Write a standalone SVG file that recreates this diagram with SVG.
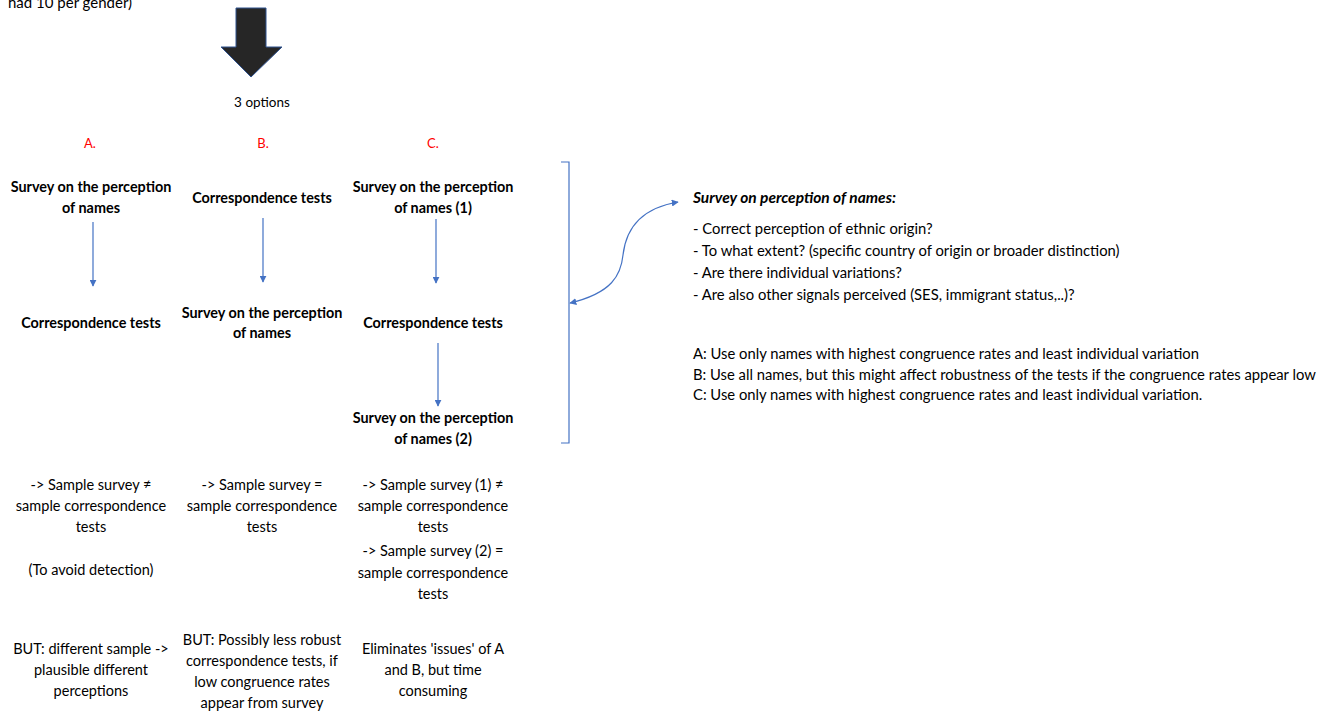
<svg xmlns="http://www.w3.org/2000/svg" width="1336" height="712" viewBox="0 0 1336 712">
<style>
text{font-family:Lato,"Liberation Sans",sans-serif;fill:#000;}
.b{font-weight:bold;font-size:14.4px;text-anchor:middle;}
.r{font-size:14.5px;text-anchor:middle;}
.s{font-size:14.8px;}
.h{font-size:15.5px;font-weight:bold;font-style:italic;}
.red{fill:#ff0000;font-size:13px;text-anchor:middle;}
.con{stroke:#4472C4;stroke-width:1.2;fill:none;}
</style>
<defs>
<marker id="ah" viewBox="0 0 10 10" refX="9" refY="5" markerWidth="7" markerHeight="7" markerUnits="userSpaceOnUse" orient="auto"><path d="M0,0 L10,5 L0,10 z" fill="#4472C4"/></marker>
<marker id="ahs" viewBox="0 0 10 10" refX="1" refY="5" markerWidth="7" markerHeight="7" markerUnits="userSpaceOnUse" orient="auto"><path d="M10,0 L0,5 L10,10 z" fill="#4472C4"/></marker>
</defs>
<rect width="1336" height="712" fill="#fff"/>
<g id="top-note"><text x="8" y="8" font-size="15">had 10 per gender)</text></g>
<g id="big-arrow"><path d="M236,8 H266 V47 H282 L251,77 L221,47 H236 Z" fill="#262626" stroke="#2F528F" stroke-width="1"/></g>
<g id="options"><text x="262" y="107" text-anchor="middle" font-size="13.5">3 options</text></g>
<g id="labels">
<text x="90" y="148" class="red">A.</text>
<text x="263" y="148" class="red">B.</text>
<text x="433" y="148" class="red">C.</text>
</g>
<g id="a1"><text x="91" y="192" class="b">Survey on the perception</text><text x="91" y="213" class="b">of names</text></g>
<g id="a2"><text x="91" y="328" class="b">Correspondence tests</text></g>
<g id="b1"><text x="262" y="203" class="b">Correspondence tests</text></g>
<g id="b2"><text x="262" y="318" class="b">Survey on the perception</text><text x="262" y="338" class="b">of names</text></g>
<g id="c1"><text x="433" y="192" class="b">Survey on the perception</text><text x="433" y="213" class="b">of names (1)</text></g>
<g id="c2"><text x="433" y="328" class="b">Correspondence tests</text></g>
<g id="c3"><text x="433" y="423" class="b">Survey on the perception</text><text x="433" y="444" class="b">of names (2)</text></g>
<g id="connectors">
<line x1="93" y1="222" x2="93" y2="286" class="con" marker-end="url(#ah)"/>
<line x1="263" y1="218" x2="263" y2="282" class="con" marker-end="url(#ah)"/>
<line x1="436" y1="219" x2="436" y2="283" class="con" marker-end="url(#ah)"/>
<line x1="438" y1="343" x2="438" y2="406" class="con" marker-end="url(#ah)"/>
<path d="M561,162 H569 V443 H561" class="con" stroke-width="1.5"/>
<path d="M570,303 C612,293 621,275 623,255 C626,228 642,208 678,202" class="con" marker-start="url(#ahs)" marker-end="url(#ah)"/>
</g>
<g id="right-notes">
<text x="693" y="203" class="h">Survey on perception of names:</text>
<text x="693" y="234" class="s">- Correct perception of ethnic origin?</text>
<text x="693" y="256" class="s">- To what extent? (specific country of origin or broader distinction)</text>
<text x="693" y="278" class="s">- Are there individual variations?</text>
<text x="693" y="300" class="s">- Are also other signals perceived (SES, immigrant status,..)?</text>
<text x="693" y="359" class="s">A: Use only names with highest congruence rates and least individual variation</text>
<text x="693" y="380" class="s">B: Use all names, but this might affect robustness of the tests if the congruence rates appear low</text>
<text x="693" y="400" class="s">C: Use only names with highest congruence rates and least individual variation.</text>
</g>
<g id="a-sample"><text x="91" y="490" class="r">-&gt; Sample survey ≠</text><text x="91" y="511" class="r">sample correspondence</text><text x="91" y="532" class="r">tests</text><text x="91" y="575" class="r">(To avoid detection)</text></g>
<g id="b-sample"><text x="262" y="490" class="r">-&gt; Sample survey =</text><text x="262" y="511" class="r">sample correspondence</text><text x="262" y="532" class="r">tests</text></g>
<g id="c-sample"><text x="433" y="490" class="r">-&gt; Sample survey (1) ≠</text><text x="433" y="511" class="r">sample correspondence</text><text x="433" y="532" class="r">tests</text><text x="433" y="556" class="r">-&gt; Sample survey (2) =</text><text x="433" y="578" class="r">sample correspondence</text><text x="433" y="599" class="r">tests</text></g>
<g id="a-but"><text x="91" y="654" class="r">BUT: different sample -&gt;</text><text x="91" y="675" class="r">plausible different</text><text x="91" y="696" class="r">perceptions</text></g>
<g id="b-but"><text x="262" y="645" class="r">BUT: Possibly less robust</text><text x="262" y="666" class="r">correspondence tests, if</text><text x="262" y="687" class="r">low congruence rates</text><text x="262" y="708" class="r">appear from survey</text></g>
<g id="c-but"><text x="433" y="654" class="r">Eliminates 'issues' of A</text><text x="433" y="675" class="r">and B, but time</text><text x="433" y="696" class="r">consuming</text></g>
</svg>
